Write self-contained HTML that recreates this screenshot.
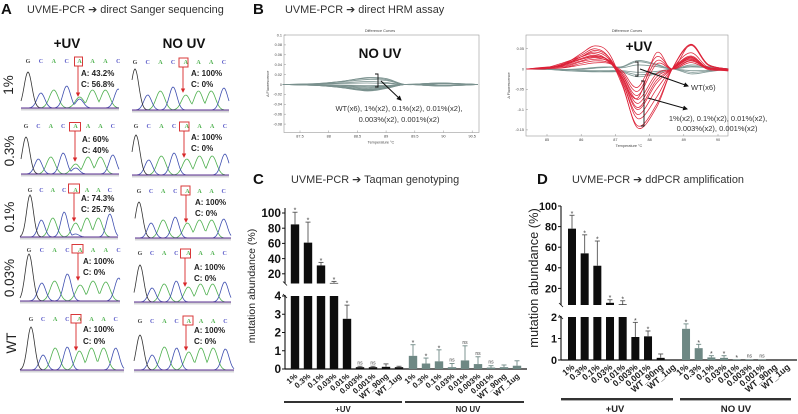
<!DOCTYPE html>
<html>
<head>
<meta charset="utf-8">
<title>UVME-PCR figure</title>
<style>
html,body{margin:0;padding:0;background:#fff;}
svg{display:block;}
text{font-family:"Liberation Sans","DejaVu Sans",sans-serif;fill:#222;}
.panel{font-size:15px;font-weight:bold;fill:#111;}
.title{font-size:10.9px;fill:#333;}
.arrowglyph{font-family:"DejaVu Sans",sans-serif;}
.hdr{font-size:13.5px;font-weight:bold;fill:#111;text-anchor:middle;}
.row{font-size:13.5px;fill:#222;text-anchor:middle;}
.ratio{font-size:8px;font-weight:bold;fill:#222;}
.note{font-size:7.5px;fill:#333;text-anchor:middle;}
.tiny{font-size:3.8px;fill:#444;}
.box{fill:none;stroke:#d8383a;stroke-width:1;}
.redarrow{stroke:#d8282a;stroke-width:.9;marker-end:url(#red-head);}
.blackarrow{stroke:#111;stroke-width:1;marker-end:url(#black-head);}
.bracket{fill:none;stroke:#111;stroke-width:.9;}
</style>
</head>
<body>
<svg id="fig" xmlns="http://www.w3.org/2000/svg" width="798" height="414" viewBox="0 0 798 414">
<defs>
<marker id="red-head" markerWidth="5" markerHeight="5" refX="4" refY="2.5" orient="auto"><path d="M0,0 L5,2.5 L0,5 Z" fill="#d8282a"/></marker>
<marker id="black-head" markerWidth="5" markerHeight="5" refX="4" refY="2.5" orient="auto"><path d="M0,0 L5,2.5 L0,5 Z" fill="#111"/></marker>
</defs>

<!-- Panel headings -->
<text class="panel" x="1" y="14">A</text>
<text class="title" x="27" y="13">UVME-PCR <tspan class="arrowglyph">➔</tspan> direct Sanger sequencing</text>
<text class="panel" x="253" y="14">B</text>
<text class="title" x="285" y="13">UVME-PCR <tspan class="arrowglyph">➔</tspan> direct HRM assay</text>
<text class="panel" x="253" y="184">C</text>
<text class="title" x="291" y="183">UVME-PCR <tspan class="arrowglyph">➔</tspan> Taqman genotyping</text>
<text class="panel" x="537" y="184">D</text>
<text class="title" x="572" y="183">UVME-PCR <tspan class="arrowglyph">➔</tspan> ddPCR amplification</text>

<!-- Panel A headers -->
<text class="hdr" x="67" y="48">+UV</text>
<text class="hdr" x="184" y="48">NO UV</text>
<text class="row" transform="translate(13,85) rotate(-90)">1%</text>
<text class="row" transform="translate(14,151) rotate(-90)">0.3%</text>
<text class="row" transform="translate(14,217) rotate(-90)">0.1%</text>
<text class="row" transform="translate(14,278) rotate(-90)">0.03%</text>
<text class="row" transform="translate(16,343) rotate(-90)">WT</text>

<!-- Chromatogram containers: geometry in attributes, signal heights in script arrays -->
<g id="chroma-l1" data-x0="28" data-dx="12.9" data-base="108" data-left="21" data-right="119" data-letter="61"></g>
<g id="chroma-l2" data-x0="26" data-dx="12.4" data-base="174" data-left="21" data-right="119" data-letter="126"></g>
<g id="chroma-l3" data-x0="30" data-dx="11.4" data-base="237" data-left="20" data-right="118" data-letter="190"></g>
<g id="chroma-l4" data-x0="29" data-dx="12.8" data-base="301" data-left="20" data-right="120" data-letter="250"></g>
<g id="chroma-l5" data-x0="31" data-dx="12.1" data-base="370" data-left="20" data-right="124" data-letter="319"></g>
<g id="chroma-r1" data-x0="135" data-dx="12.7" data-base="110" data-left="132" data-right="229" data-letter="62"></g>
<g id="chroma-r2" data-x0="136" data-dx="12.7" data-base="175" data-left="132" data-right="229" data-letter="126"></g>
<g id="chroma-r3" data-x0="139" data-dx="12.1" data-base="238" data-left="135" data-right="231" data-letter="191"></g>
<g id="chroma-r4" data-x0="140" data-dx="12.1" data-base="302" data-left="134" data-right="231" data-letter="253"></g>
<g id="chroma-r5" data-x0="140" data-dx="12.2" data-base="370" data-left="134" data-right="234" data-letter="321"></g>

<!-- Highlight boxes, arrows, ratios -->
<g>
<rect class="box" x="74.5" y="57" width="8" height="9"/>
<line class="redarrow" x1="78" y1="66" x2="78" y2="96"/>
<text class="ratio" x="81" y="76">A: 43.2%</text>
<text class="ratio" x="81" y="87">C: 56.8%</text>
<rect class="box" x="69.5" y="122.5" width="11" height="8.5"/>
<line class="redarrow" x1="75" y1="131" x2="75" y2="161"/>
<text class="ratio" x="82" y="142">A: 60%</text>
<text class="ratio" x="82" y="153">C: 40%</text>
<rect class="box" x="68.5" y="184" width="11" height="9"/>
<line class="redarrow" x1="74" y1="193" x2="74" y2="221"/>
<text class="ratio" x="81" y="201">A: 74.3%</text>
<text class="ratio" x="81" y="212">C: 25.7%</text>
<rect class="box" x="72" y="244.5" width="11" height="8.5"/>
<line class="redarrow" x1="78" y1="253" x2="78" y2="280"/>
<text class="ratio" x="83" y="264">A: 100%</text>
<text class="ratio" x="83" y="275">C: 0%</text>
<rect class="box" x="71" y="314.5" width="10" height="8.5"/>
<line class="redarrow" x1="76" y1="323" x2="76" y2="350"/>
<text class="ratio" x="83" y="332">A: 100%</text>
<text class="ratio" x="83" y="344">C: 0%</text>
<rect class="box" x="179" y="58" width="9" height="9"/>
<line class="redarrow" x1="183" y1="67" x2="183" y2="92"/>
<text class="ratio" x="191" y="76">A: 100%</text>
<text class="ratio" x="191" y="87">C: 0%</text>
<rect class="box" x="179.5" y="122" width="9.5" height="9"/>
<line class="redarrow" x1="184" y1="131" x2="184" y2="157"/>
<text class="ratio" x="191" y="140">A: 100%</text>
<text class="ratio" x="191" y="151">C: 0%</text>
<rect class="box" x="181" y="186" width="9" height="9"/>
<line class="redarrow" x1="186" y1="195" x2="186" y2="222"/>
<text class="ratio" x="195" y="205">A: 100%</text>
<text class="ratio" x="195" y="216">C: 0%</text>
<rect class="box" x="180.5" y="249" width="10" height="9"/>
<line class="redarrow" x1="185" y1="258" x2="185" y2="286"/>
<text class="ratio" x="194" y="270">A: 100%</text>
<text class="ratio" x="194" y="281">C: 0%</text>
<rect class="box" x="183" y="316" width="10" height="9"/>
<line class="redarrow" x1="186" y1="325" x2="186" y2="350"/>
<text class="ratio" x="194" y="333">A: 100%</text>
<text class="ratio" x="194" y="344">C: 0%</text>
</g>

<!-- Panel B plots -->
<g id="hrm-no-uv"></g>
<g id="hrm-uv"></g>

<text x="380" y="58" text-anchor="middle" style="font-size:13.5px;font-weight:bold;fill:#111">NO UV</text>
<path class="bracket" d="M375,74 H378 V87 H375"/>
<line class="blackarrow" x1="381" y1="81" x2="401" y2="100"/>
<text class="note" x="399" y="111">WT(x6), 1%(x2), 0.1%(x2), 0.01%(x2),</text>
<text class="note" x="399" y="122">0.003%(x2), 0.001%(x2)</text>

<text x="639" y="51" text-anchor="middle" style="font-size:13.5px;font-weight:bold;fill:#111">+UV</text>
<path class="bracket" d="M635,62 H638 V76 H635"/>
<path class="bracket" d="M641,81 H644 V126 H641"/>
<line class="blackarrow" x1="640" y1="69" x2="688" y2="86"/>
<line class="blackarrow" x1="648" y1="98" x2="687" y2="109"/>
<text class="note" x="691" y="90" style="text-anchor:start">WT(x6)</text>
<text class="note" x="718" y="121">1%(x2),  0.1%(x2), 0.01%(x2),</text>
<text class="note" x="717" y="131">0.003%(x2), 0.001%(x2)</text>

<!-- Panels C, D -->
<g id="taqman"></g>
<g id="ddpcr"></g>

<text transform="translate(255,286) rotate(-90)" text-anchor="middle" style="font-size:10.5px;fill:#222">mutation abundance (%)</text>
<text transform="translate(538,278) rotate(-90)" text-anchor="middle" style="font-size:12.8px;fill:#222">mutation abundance (%)</text>

<rect x="284" y="401" width="118" height="2" fill="#333"/>
<rect x="405" y="401" width="119" height="2" fill="#333"/>
<text x="343" y="412" text-anchor="middle" style="font-size:7.8px;font-weight:bold">+UV</text>
<text x="468" y="412" text-anchor="middle" style="font-size:7.8px;font-weight:bold">NO UV</text>
<rect x="561" y="398" width="112" height="2.4" fill="#333"/>
<rect x="680" y="398" width="111" height="2.4" fill="#333"/>
<text x="615" y="412" text-anchor="middle" style="font-size:9.4px;font-weight:bold">+UV</text>
<text x="736" y="412" text-anchor="middle" style="font-size:9.6px;font-weight:bold">NO UV</text>
</svg>

<script>
/* ---------- Sanger data: signal heights ---------- */
const sangerBases = ['G','C','A','C','A','A','A','C'];
const sangerL1 = [36,15,18,22,11,18,18,19];
const sangerL2 = [37,15,17,21,10,17,17,19];
const sangerL3 = [42,17,19,25,14,19,19,23];
const sangerL4 = [47,18,20,27,16,20,19,23];
const sangerL5 = [43,15,22,23,19,22,22,22];
const sangerR1 = [41,15,19,23,15,19,19,22];
const sangerR2 = [40,15,19,22,16,19,19,21];
const sangerR3 = [36,15,18,21,15,18,18,19];
const sangerR4 = [37,14,18,21,15,18,18,20];
const sangerR5 = [35,15,23,22,18,22,22,21];
const sangerMinorC = [9,6,3,0,0,0,0,0,0,0];

/* ---------- HRM data ---------- */
const noUvTemps = [87.2,87.8,88.2,88.67,89.0,89.33,89.7,90.0,90.6];
const noUvCurves = [
 [0,.002,.006,.014,.012,0,.002,.003,0],
 [0,.002,.006,.013,.010,0,.002,.003,0],
 [0,.001,.005,.010,.008,0,.002,.003,0],
 [0,.001,.003,.006,.004,0,.002,.002,0],
 [0,.001,.002,.003,.002,0,.001,.002,0],
 [0,.000,-.001,-.002,-.002,0,.001,.002,0],
 [0,-.001,-.002,-.004,-.003,0,.001,.002,0],
 [0,-.001,-.003,-.006,-.004,0,.001,.001,0],
 [0,-.001,-.004,-.008,-.005,0,-.001,.001,0],
 [0,-.002,-.005,-.010,-.006,0,-.001,-.002,0],
 [0,-.002,-.005,-.011,-.007,0,-.001,-.002,0],
 [0,-.002,-.006,-.012,-.007,0,-.002,-.003,0],
 [0,-.002,-.006,-.013,-.008,0,-.002,-.003,0]
];
const noUvYTicks = [0.1,0.08,0.06,0.04,0.02,0,-0.02,-0.04,-0.06,-0.08];
const noUvXTicks = [87.5,88,88.5,89,89.5,90,90.5];

const uvTemps = [84.4,85,85.5,86,86.4,86.8,87.2,87.65,88.2,88.66,89.2,89.7,90.3];
const uvRedCurves = [
 [0,.001,.012,.038,.057,.04,-.035,-.145,-.095,0,.061,.012,0],
 [0,.002,.014,.034,.05,.03,-.04,-.14,-.088,0,.058,.01,0],
 [0,.002,.01,.03,.042,.026,-.03,-.122,-.07,0,.04,.005,-.002],
 [0,.004,.016,.03,.038,.02,-.03,-.112,-.05,0,.032,.003,-.001],
 [0,.003,.012,.026,.034,.02,-.025,-.1,-.035,0,.03,.002,0],
 [0,.001,.01,.024,.032,.022,-.02,-.095,-.028,0,.028,.002,-.003],
 [0,.002,.008,.02,.028,.018,-.02,-.085,-.02,0,.026,.002,-.004],
 [0,.004,.01,.024,.03,.022,-.015,-.075,-.012,0,.024,-.001,-.003],
 [0,.005,.006,.018,.024,.02,-.014,-.065,.012,0,.022,.004,0],
 [0,.002,.004,.014,.02,.016,-.01,-.055,.02,0,.02,.002,-.002],
 [0,.002,.012,.03,.046,.03,-.022,-.072,.04,0,.06,.012,0],
 [0,.001,.003,.01,.015,.014,-.005,-.045,.03,0,.016,.001,-.005]
];
const uvGrayCurves = [
 [0,-.001,-.002,-.001,.002,.004,.006,.021,.012,0,.007,.004,0],
 [0,-.001,-.002,.000,.003,.005,.005,.018,.010,0,.010,.006,0],
 [0,.000,-.001,.001,.004,.005,.003,.010,.006,0,.005,.003,.001],
 [0,.000,-.001,-.003,-.004,-.004,-.004,-.008,-.006,0,-.004,-.003,0],
 [0,.000,-.003,-.005,-.006,-.006,-.006,-.014,-.010,0,-.008,-.005,0],
 [0,-.001,-.004,-.006,-.007,-.007,-.008,-.019,-.012,0,-.012,-.007,0]
];
const uvYTicks = [0.05,0,-0.05,-0.1,-0.15];
const uvXTicks = [85,86,87,88,89,90];

/* ---------- Bar data ---------- */
const barCategories = ['1%','0.3%','0.1%','0.03%','0.01%','0.003%','0.001%','WT_90ng','WT_1ug'];

const taqmanUvMeans = [85,61,31,8,2.75,0.1,0.1,0.12,0.1];
const taqmanUvErrorTops = [101,88,35,10,3.5,0.15,0.15,0.28,0.15];
const taqmanUvMarks = ['*','*','*','*','*','ns','ns','',''];
const taqmanNoUvMeans = [0.72,0.3,0.42,0.1,0.47,0.27,0.08,0.1,0.18];
const taqmanNoUvErrorTops = [1.33,0.6,1.05,0.3,1.27,0.67,0.18,0.22,0.45];
const taqmanNoUvMarks = ['*','*','*','ns','ns','ns','ns','',''];
const taqmanUpperTicks = [20,40,60,80,100];
const taqmanLowerTicks = [0,1,2,3,4];

const ddpcrUvMeans = [78,54,42,6,4.5,1.07,1.1,0.1,0.02];
const ddpcrUvErrorTops = [91,72,66,9,8,1.75,1.35,0.28,0.02];
const ddpcrUvMarks = ['*','*','*','*','*','*','*','',''];
const ddpcrNoUvMeans = [1.45,0.55,0.12,0.1,0.03,0.03,0.03,0,0];
const ddpcrNoUvErrorTops = [1.68,0.73,0.2,0.2,0.03,0.03,0.03,0,0];
const ddpcrNoUvMarks = ['*','*','*','*','*','ns','ns','',''];
const ddpcrUpperTicks = [20,40,60,80,100];
const ddpcrLowerTicks = [0,1,2];

/* ---------- Helpers ---------- */
const NS = 'http://www.w3.org/2000/svg';
function mk(parent, tag, attrs, txt) {
  const el = document.createElementNS(NS, tag);
  for (const k in attrs) el.setAttribute(k, attrs[k]);
  if (txt !== undefined) el.textContent = txt;
  parent.appendChild(el);
  return el;
}
function smoothPath(pts) {
  let d = 'M' + pts[0][0].toFixed(2) + ',' + pts[0][1].toFixed(2);
  for (let i = 0; i < pts.length - 1; i++) {
    const p0 = pts[Math.max(0, i - 1)], p1 = pts[i], p2 = pts[i + 1], p3 = pts[Math.min(pts.length - 1, i + 2)];
    const c1x = p1[0] + (p2[0] - p0[0]) / 6, c1y = p1[1] + (p2[1] - p0[1]) / 6;
    const c2x = p2[0] - (p3[0] - p1[0]) / 6, c2y = p2[1] - (p3[1] - p1[1]) / 6;
    d += 'C' + c1x.toFixed(2) + ',' + c1y.toFixed(2) + ' ' + c2x.toFixed(2) + ',' + c2y.toFixed(2) + ' ' + p2[0].toFixed(2) + ',' + p2[1].toFixed(2);
  }
  return d;
}

/* ---------- Sanger ---------- */
const letterColor = {G:'#444', C:'#5a5ac8', A:'#4cb04c'};
const traceColor = {G:'#333', C:'#3f4fb0', A:'#4fb04f'};
function drawChromatogram(id, heights, minorC) {
  const g = document.getElementById(id);
  const x0 = +g.dataset.x0, dx = +g.dataset.dx, base = +g.dataset.base;
  const left = +g.dataset.left, right = +g.dataset.right, letterY = +g.dataset.letter;
  const strip = mk(g, 'rect', {x:left, y:base + 0.5, width:right - left, height:2, fill:'#d5d5d8'});
  
  
  sangerBases.forEach(function (b, i) {
    const t = mk(g, 'text', {x:x0 + i * dx, y:letterY + 2, 'text-anchor':'middle', style:'font-family:"Liberation Serif",serif;font-size:6px;font-weight:bold;fill:' + letterColor[b]}, b);
    
    
  });
  ['A','C','G'].forEach(function (ch) {
    let pts = [];
    for (let x = left; x <= right; x += 1) {
      let v = 0;
      sangerBases.forEach(function (b, i) {
        if (b === ch) {
          const s = dx * (ch === 'A' ? 0.34 : 0.3);
          const z = (x - (x0 + i * dx)) / s;
          v = Math.max(v, heights[i] * Math.exp(-0.5 * z * z));
        }
      });
      if (ch === 'C' && minorC > 0) {
        const z = (x - (x0 + 4 * dx)) / (dx * 0.3);
        v = Math.max(v, minorC * Math.exp(-0.5 * z * z));
      }
      pts.push(x.toFixed(1) + ',' + (base - v).toFixed(1));
    }
    const tr = mk(g, 'polyline', {points:pts.join(' '), fill:'none', stroke:traceColor[ch], 'stroke-width':0.8});
    
    
  });
  const bl = mk(g, 'line', {x1:left, x2:right, y1:base, y2:base, stroke:'#5a2f90', 'stroke-width':1});
  
  
}
[['chroma-l1',sangerL1],['chroma-l2',sangerL2],['chroma-l3',sangerL3],['chroma-l4',sangerL4],['chroma-l5',sangerL5],
 ['chroma-r1',sangerR1],['chroma-r2',sangerR2],['chroma-r3',sangerR3],['chroma-r4',sangerR4],['chroma-r5',sangerR5]
].forEach(function (c, i) { drawChromatogram(c[0], c[1], sangerMinorC[i]); });

/* ---------- HRM ---------- */
function drawHrm(id, box, xScale, yScale, temps, groups, yTicks, xTicks, titleX, xLabelX, yLabelX, tickLabelX) {
  const g = document.getElementById(id);
  const frame = mk(g, 'rect', {x:box.l, y:box.t, width:box.r - box.l, height:box.b - box.t, fill:'#fff', stroke:'#999', 'stroke-width':0.6});
  
  
  const title = mk(g, 'text', {x:titleX, y:box.t - 3, 'text-anchor':'middle', class:'tiny'}, 'Difference Curves');
  
  
  yTicks.forEach(function (v) {
    const tk = mk(g, 'line', {x1:box.l, x2:box.l + 2, y1:yScale(v), y2:yScale(v), stroke:'#777', 'stroke-width':0.4});
    
    
    const lb = mk(g, 'text', {x:tickLabelX, y:yScale(v) + 1.3, 'text-anchor':'end', class:'tiny'}, String(v));
    
    
  });
  xTicks.forEach(function (v) {
    const tk = mk(g, 'line', {x1:xScale(v), x2:xScale(v), y1:box.b, y2:box.b - 2, stroke:'#777', 'stroke-width':0.4});
    
    
    const lb = mk(g, 'text', {x:xScale(v), y:box.b + 5, 'text-anchor':'middle', class:'tiny'}, String(v));
    
    
  });
  const xt = mk(g, 'text', {x:xLabelX, y:box.b + 11, 'text-anchor':'middle', class:'tiny'}, 'Temperature °C');
  
  
  const yt = mk(g, 'text', {transform:'translate(' + yLabelX + ',' + ((box.t + box.b) / 2) + ') rotate(-90)', 'text-anchor':'middle', class:'tiny'}, 'Δ Fluorescence');
  
  
  groups.forEach(function (grp) {
    grp.curves.forEach(function (vals) {
      const pts = vals.map(function (v, i) { return [xScale(temps[i]), yScale(v)]; });
      const p = mk(g, 'path', {d:smoothPath(pts), fill:'none', stroke:grp.color, 'stroke-width':grp.width});
      
      
    });
  });
}
drawHrm('hrm-no-uv', {l:284, r:479, t:35, b:132.5},
  function (t) { return 300 + (t - 87.5) * 57.4; },
  function (v) { return 84.5 - v * 495; },
  noUvTemps, [{curves:noUvCurves, color:'#7a918e', width:0.8}], noUvYTicks, noUvXTicks, 380, 381, 269, 282);
drawHrm('hrm-uv', {l:526, r:728, t:35, b:136},
  function (t) { return 547 + (t - 85) * 34.2; },
  function (v) { return 69 - v * 406; },
  uvTemps, [{curves:uvGrayCurves, color:'#7f9794', width:0.8}, {curves:uvRedCurves, color:'#dc2238', width:0.75}], uvYTicks, uvXTicks, 627, 629, 510, 524);

/* ---------- Bars ---------- */
function drawBars(id, cfg, uvMeans, uvTops, uvMarks, noMeans, noTops, noMarks, upperTicks, lowerTicks) {
  const g = document.getElementById(id);
  const lowMax = lowerTicks[lowerTicks.length - 1];
  const yLow = function (v) { return cfg.zeroY - v * cfg.lowK; };
  const yUp = function (v) { return cfg.top100 + (100 - v) * cfg.upK; };
  const xBar = function (i) { return cfg.x0 + i * cfg.step + (i >= barCategories.length ? cfg.gap : 0); };
  function axisLine(x1, y1, x2, y2, w, name) {
    const l = mk(g, 'line', {x1:x1, y1:y1, x2:x2, y2:y2, stroke:'#111', 'stroke-width':w});
    
    
  }
  axisLine(cfg.axisX, cfg.upTop, cfg.axisX, cfg.upBottom, 1.1, 'y-axis-upper');
  axisLine(cfg.axisX, yLow(lowMax) - 1, cfg.axisX, cfg.zeroY, 1.1, 'y-axis-lower');
  axisLine(cfg.axisX - 2, cfg.upBottom - 2, cfg.axisX + 2, cfg.upBottom + 2, 0.8, 'axis-break-upper');
  axisLine(cfg.axisX - 2, yLow(lowMax) - 2, cfg.axisX + 2, yLow(lowMax) + 2, 0.8, 'axis-break-lower');
  axisLine(cfg.axisX, cfg.zeroY, cfg.axisEnd, cfg.zeroY, 1.3, 'x-axis');
  upperTicks.forEach(function (v) {
    axisLine(cfg.axisX - 3, yUp(v), cfg.axisX, yUp(v), 1, 'y-tick');
    const t = mk(g, 'text', {x:cfg.axisX - 4, y:yUp(v) + cfg.tick * 0.36, 'text-anchor':'end', style:'font-weight:bold;fill:#111;font-size:' + cfg.tick + 'px'}, String(v));
    
    
  });
  lowerTicks.forEach(function (v) {
    axisLine(cfg.axisX - 3, yLow(v), cfg.axisX, yLow(v), 1, 'y-tick');
    const t = mk(g, 'text', {x:cfg.axisX - 4, y:yLow(v) + cfg.tick * 0.36, 'text-anchor':'end', style:'font-weight:bold;fill:#111;font-size:' + cfg.tick + 'px'}, String(v));
    
    
  });
  const means = uvMeans.concat(noMeans), tops = uvTops.concat(noTops), marks = uvMarks.concat(noMarks);
  means.forEach(function (v, i) {
    const isUv = i < uvMeans.length;
    const cx = xBar(i), hw = cfg.barW / 2, color = isUv ? '#0d0d0d' : '#6e8884';
    const name = (isUv ? 'bar-uv-' : 'bar-no-uv-') + barCategories[i % barCategories.length];
    const low = mk(g, 'rect', {x:cx - hw, y:yLow(Math.min(v, lowMax)), width:cfg.barW, height:Math.max(0, cfg.zeroY - yLow(Math.min(v, lowMax))), fill:color});
    
    
    if (v > lowMax) {
      const up = mk(g, 'rect', {x:cx - hw, y:yUp(v), width:cfg.barW, height:Math.max(0, cfg.upBottom - yUp(v)), fill:color});
      
      
    }
    const yOf = function (val) { return val > lowMax ? yUp(val) : yLow(val); };
    const topY = yOf(tops[i]);
    if (tops[i] > v) {
      const stemColor = isUv ? '#555' : '#6e8884';
      const err = mk(g, 'line', {x1:cx, x2:cx, y1:topY, y2:yOf(v), stroke:stemColor, 'stroke-width':0.9});
      
      
      const cap = mk(g, 'line', {x1:cx - 2.5, x2:cx + 2.5, y1:topY, y2:topY, stroke:stemColor, 'stroke-width':0.9});
      
      
    }
    if (marks[i]) {
      const star = marks[i] === '*';
      const m = mk(g, 'text', {x:cx, y:topY - (star ? -0.5 : 2), 'text-anchor':'middle', style:'fill:#444;font-size:' + (star ? 7 : 5) + 'px'}, marks[i]);
      
      
    }
    const lb = mk(g, 'text', {transform:'translate(' + (cx + 3) + ',' + cfg.labelY + ') rotate(-40)', 'text-anchor':'end', style:'font-weight:bold;fill:#222;font-size:' + cfg.label + 'px'}, barCategories[i % barCategories.length]);
    
    
  });
}
drawBars('taqman', {axisX:285, axisEnd:527, zeroY:369, lowK:18.25, top100:213, upK:0.76, upTop:208, upBottom:283.5,
  x0:295, step:13, gap:1, barW:8.4, labelY:377, label:7.9, tick:11.8},
  taqmanUvMeans, taqmanUvErrorTops, taqmanUvMarks, taqmanNoUvMeans, taqmanNoUvErrorTops, taqmanNoUvMarks, taqmanUpperTicks, taqmanLowerTicks);
drawBars('ddpcr', {axisX:561, axisEnd:797, zeroY:360, lowK:21.5, top100:206, upK:1.03, upTop:206, upBottom:305,
  x0:572, step:12.67, gap:0, barW:8, labelY:368, label:8.7, tick:10.8},
  ddpcrUvMeans, ddpcrUvErrorTops, ddpcrUvMarks, ddpcrNoUvMeans, ddpcrNoUvErrorTops, ddpcrNoUvMarks, ddpcrUpperTicks, ddpcrLowerTicks);
</script>
</body>
</html>
